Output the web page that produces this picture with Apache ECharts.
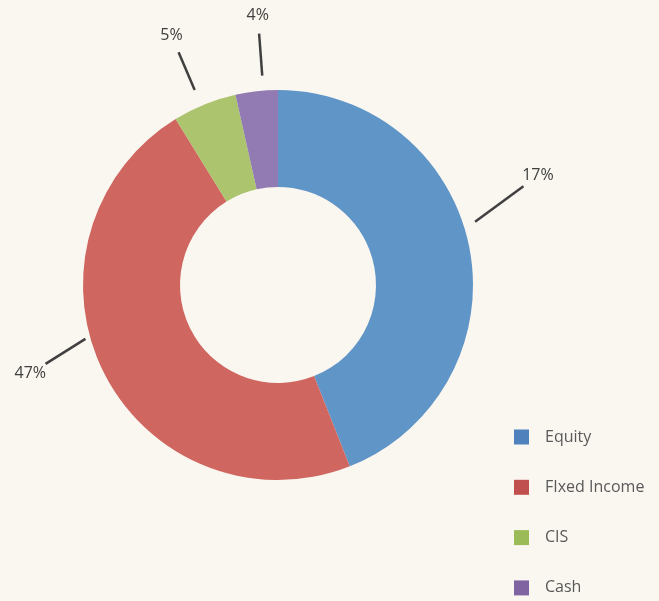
<!DOCTYPE html>
<html>
<head>
<meta charset="utf-8">
<style>
  html, body { margin: 0; padding: 0; background: #FAF6F0; }
  #chart { width: 659px; height: 601px; }
</style>
<script src="https://cdn.jsdelivr.net/npm/echarts@6/dist/echarts.min.js"></script>
</head>
<body>
<div id="chart"></div>
<script>
// slice shares (angles of the slice edges)
const categories = ['Equity', 'FIxed Income', 'CIS', 'Cash'];
const values = [44.0, 47.2, 5.3, 3.5];
// labels as printed on the original (they do not match the slice sizes)
const labelTexts = ['17%', '47%', '5%', '4%'];

const sliceColors = ['#6095C7', '#CF6660', '#ABC46D', '#927BB2'];
const legendColors = ['#4F81BD', '#C0504D', '#9BBB59', '#8064A2'];

// leader layout: nudges in degrees from each slice's mid-angle
const labelNudge = [-12, 7, -1, 2];
const labelRadius = [282, 263, 271, 270];
const lineNudge = [-7, 11, -1, 2];
const lineStartRadius = [207, 200, 212, 210];
const lineStopShort = 18;

const cx = 278;
const cy = 285;

const total = values.reduce((a, b) => a + b, 0);
const midAngles = [];
let acc = 0;
values.forEach((v) => {
  midAngles.push(((acc + v / 2) / total) * 360);
  acc += v;
});

function polar(deg, r) {
  const a = (deg * Math.PI) / 180;
  return [cx + r * Math.sin(a), cy - r * Math.cos(a)];
}

const chart = echarts.init(document.getElementById('chart'), null, { renderer: 'canvas' });

chart.setOption({
  backgroundColor: '#FAF6F0',
  animation: false,
  textStyle: { fontFamily: '"Open Sans", "Noto Sans", sans-serif' },
  legend: {
    orient: 'vertical',
    left: 514,
    top: 429,
    padding: 0,
    itemWidth: 15,
    itemHeight: 15,
    itemGap: 34.3,
    icon: 'rect',
    selectedMode: false,
    textStyle: {
      color: '#595959',
      fontSize: 16,
      padding: [0, 0, 0, 11],
      fontFamily: '"Open Sans", "Noto Sans", sans-serif'
    },
    data: categories.map((name, i) => ({
      name,
      itemStyle: { color: legendColors[i] }
    }))
  },
  series: [
    {
      type: 'pie',
      center: [cx, cy],
      radius: [98, 195],
      startAngle: 90,
      clockwise: true,
      avoidLabelOverlap: false,
      emphasis: { disabled: true },
      itemStyle: { borderWidth: 0 },
      label: {
        show: true,
        position: 'outside',
        color: '#404040',
        fontSize: 16,
        fontFamily: '"Open Sans", "Noto Sans", sans-serif',
        formatter: (p) => labelTexts[p.dataIndex]
      },
      labelLine: {
        show: true,
        length: 20,
        length2: 0,
        smooth: false,
        lineStyle: { color: '#404040', width: 2.5 }
      },
      labelLayout: (p) => {
        const i = p.dataIndex;
        const lab = polar(midAngles[i] + labelNudge[i], labelRadius[i]);
        const start = polar(midAngles[i] + lineNudge[i], lineStartRadius[i]);
        const dx = lab[0] - start[0];
        const dy = lab[1] - start[1];
        const len = Math.sqrt(dx * dx + dy * dy);
        const k = (len - lineStopShort) / len;
        const end = [start[0] + dx * k, start[1] + dy * k];
        return {
          x: lab[0],
          y: lab[1],
          align: 'center',
          verticalAlign: 'middle',
          labelLinePoints: [start, end, end]
        };
      },
      data: categories.map((name, i) => ({
        name,
        value: values[i],
        itemStyle: { color: sliceColors[i] }
      }))
    }
  ]
});
</script>
</body>
</html>
